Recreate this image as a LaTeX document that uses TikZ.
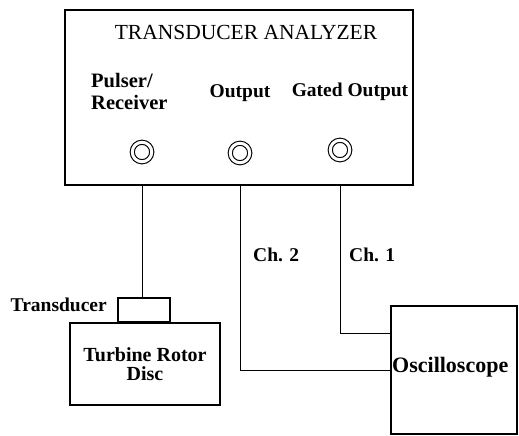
\documentclass[tikz,border=0pt]{standalone}
\usepackage{fontspec}
\setmainfont{Liberation Serif}
\usetikzlibrary{positioning}

\begin{document}
\begin{tikzpicture}[
    x=1pt, y=-1pt,
    box/.style  = {draw, line width=1.6pt, inner sep=0pt},
    jack/.style = {circle, draw, line width=1.1pt, double, double distance=3pt,
                   minimum size=19.5pt, inner sep=0pt},
    lbl/.style  = {font=\fontsize{19.5}{22}\selectfont\bfseries, inner sep=0pt},
    wire/.style = {line width=0.7pt}
]
\useasboundingbox (0,0) rectangle (519,436);

% Analyzer
\node[box, minimum width=348pt, minimum height=175pt] (ana) at (239,97.5) {};
\node[inner sep=0pt, font=\fontsize{21.5}{22}\selectfont] (title) at (246,32) {TRANSDUCER ANALYZER};

% Jack labels
\node[lbl, align=left, anchor=west, font=\fontsize{20.5}{22}\selectfont\bfseries]
      (prlbl) at (91,91) {Pulser/\\Receiver};
\node[lbl]                          (outlbl)  at (240,93) {Output};
\node[lbl]                          (gatelbl) at (350,92) {Gated Output};

% Jacks
\node[jack] (pr)   at (142,152) {};
\node[jack] (out)  at (240,153) {};
\node[jack] (gate) at (340,150) {};

% Rotor disc with transducer
\node[box, minimum width=150pt, minimum height=82pt, align=center,
      font=\fontsize{20}{18.5}\selectfont\bfseries] (disc) at (145,364) {Turbine Rotor\\Disc};
\node[box, minimum width=52pt, minimum height=24pt, anchor=south] (xd) at (144,323) {};
\node[lbl, anchor=east] (xdlbl) at (107,305) {Transducer};

% Oscilloscope
\node[box, minimum width=126pt, minimum height=128pt] (osc) at (454,370) {};
\node[lbl, anchor=west, font=\fontsize{22}{22}\selectfont\bfseries] (osclbl) at (392,367) {Oscilloscope};
\coordinate (in1) at (osc.north west |- 0,333);

% Wires
\draw[wire] (pr |- ana.south) -- (pr |- xd.north);
\draw[wire] (out |- ana.south) |- (osc.west);
\draw[wire] (gate |- ana.south) |- (in1);

% Channel labels
\node[lbl, anchor=west] (ch2) at (253,255) {Ch. 2};
\node[lbl, anchor=west] (ch1) at (349,255) {Ch. 1};

\end{tikzpicture}
\end{document}
